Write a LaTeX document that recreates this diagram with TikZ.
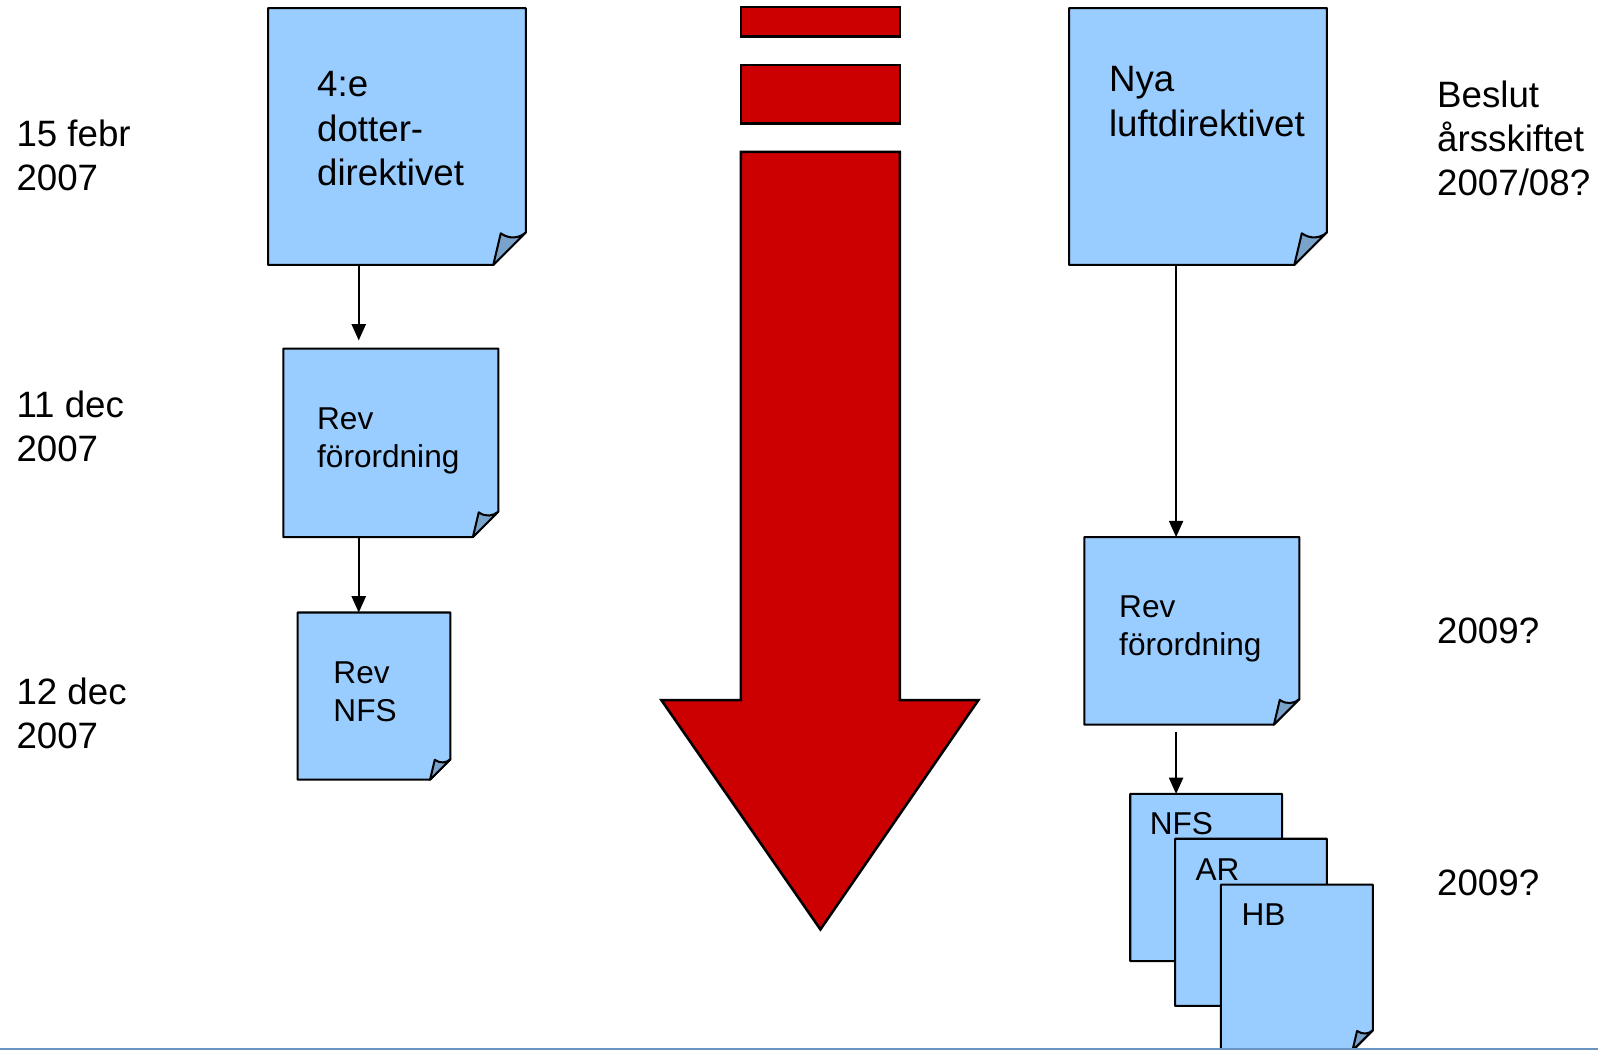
\documentclass[tikz,border=0pt]{standalone}
\usepackage{fontspec}
\setmainfont{Liberation Sans}
\usepackage{tikz}
\usetikzlibrary{arrows.meta,calc}

\definecolor{paperblue}{RGB}{153,204,255}
\definecolor{foldblue}{RGB}{122,163,204}
\definecolor{arrowred}{RGB}{204,0,0}
\definecolor{rulerblue}{RGB}{106,148,194}

\newcommand\bigtxt{\fontsize{36}{43.5}\selectfont}
\newcommand\smalltxt{\fontsize{31}{37.5}\selectfont}

% paper sheet with a turned corner, drawn over node #1, corner size #2
\newcommand\sheet[2]{%
	\filldraw[sheetline] (#1.north west) -- (#1.north east)
		-- ([yshift=#2]#1.south east) -- ([xshift=-#2]#1.south east)
		-- (#1.south west) -- cycle;
	\filldraw[foldline] ([xshift=-#2]#1.south east)
		-- ([xshift=-0.77*#2,yshift=0.97*#2]#1.south east)
		.. controls ([xshift=-0.5*#2,yshift=0.78*#2]#1.south east)
		and ([xshift=-0.2*#2,yshift=0.82*#2]#1.south east)
		.. ([yshift=#2]#1.south east) -- cycle;
}

\begin{document}
\begin{tikzpicture}[x=1pt,y=-1pt,
	paper/.style={anchor=north west, inner sep=0pt, outer sep=0pt},
	sheetline/.style={draw=black, line width=2pt, line join=round, fill=paperblue},
	foldline/.style={draw=black, line width=2pt, line join=round, fill=foldblue},
	redpart/.style={draw=black, line width=2.5pt, fill=arrowred},
	big/.style={anchor=north west, inner sep=0pt, align=left, font=\bigtxt},
	small/.style={anchor=north west, inner sep=0pt, align=left, font=\smalltxt},
	link/.style={line width=1.5pt, -{Triangle[length=16pt,width=14pt]}}]
	\useasboundingbox (0,0) rectangle (1568,1030);

	% time labels
	\node[big] (t1) at (16,117) {15 febr\\2007};
	\node[big] (t2) at (16,383) {11 dec\\2007};
	\node[big] (t3) at (16,665) {12 dec\\2007};
	\node[big] (r1) at (1410,79) {Beslut\\årsskiftet\\2007/08?};
	\node[big] (r2) at (1410,606) {2009?};
	\node[big] (r3) at (1410,853) {2009?};

	% red arrow
	\filldraw[redpart] (727,7) rectangle (883,36);
	\filldraw[redpart] (727,64) rectangle (883,121);
	\filldraw[redpart] (727,149) -- (883,149) -- (883,687) -- (960,687)
		-- (805,912) -- (649,687) -- (727,687) -- cycle;

	% left column
	\node[paper, minimum width=253, minimum height=252] (dotter) at (263,8) {};
	\sheet{dotter}{32pt}
	\node[big] (dottertxt) at (311,70) {4:e\\dotter-\\direktivet};

	\node[paper, minimum width=211, minimum height=185] (forordL) at (278,342) {};
	\sheet{forordL}{25pt}
	\node[small] (forordLtxt) at (311,400) {Rev\\förordning};

	\node[paper, minimum width=150, minimum height=164] (nfsL) at (292,601) {};
	\sheet{nfsL}{20pt}
	\node[small] (nfsLtxt) at (327,649) {Rev\\NFS};

	% right column
	\node[paper, minimum width=253, minimum height=252] (luft) at (1049,8) {};
	\sheet{luft}{32pt}
	\node[big] (lufttxt) at (1088,65) {Nya\\luftdirektivet};

	\node[paper, minimum width=211, minimum height=184] (forordR) at (1064,527) {};
	\sheet{forordR}{25pt}
	\node[small] (forordRtxt) at (1098,584) {Rev\\förordning};

	\node[paper, minimum width=149, minimum height=164] (nfs) at (1109,779) {};
	\sheet{nfs}{20pt}
	\node[small] (nfstxt) at (1128,797) {NFS};
	\node[paper, minimum width=149, minimum height=164] (ar) at (1153,823) {};
	\sheet{ar}{20pt}
	\node[small] (artxt) at (1173,842) {AR};
	\node[paper, minimum width=149, minimum height=163] (hb) at (1198,868) {};
	\sheet{hb}{20pt}
	\node[small] (hbtxt) at (1218,887) {HB};

	% connectors
	\coordinate (colL) at (352,0);
	\coordinate (colR) at (1154,0);
	\draw[link, shorten >=8pt] (dotter.south -| colL) -- (forordL.north -| colL);
	\draw[link] (forordL.south -| colL) -- (nfsL.north -| colL);
	\draw[link] (luft.south -| colR) -- (forordR.north -| colR);
	\draw[link, shorten <=7pt] (forordR.south -| colR) -- (nfs.north -| colR);

	\draw[rulerblue, line width=2pt] (0,1029) -- (1568,1029);
\end{tikzpicture}
\end{document}
